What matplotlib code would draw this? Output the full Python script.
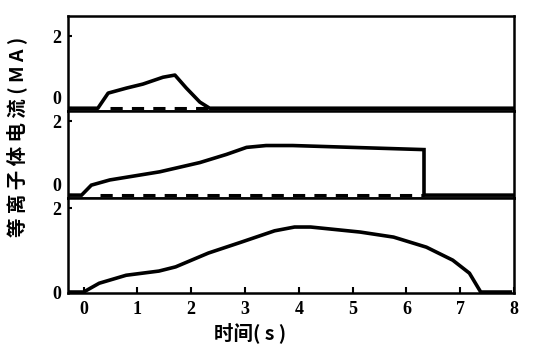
import matplotlib
matplotlib.use("Agg")
import matplotlib.pyplot as plt

plt.rcParams['font.family'] = ['Liberation Serif', 'Noto Sans CJK SC']
plt.rcParams['font.weight'] = 'bold'

# 上图
t1 = [-0.29, 0.26, 0.45, 0.79, 1.09, 1.46, 1.68, 1.89, 2.14, 2.32, 7.93]
i1 = [0.0, 0.0, 0.42, 0.56, 0.67, 0.86, 0.92, 0.56, 0.17, 0.0, 0.0]
d1 = [0.48, 2.38]

# 中图
t2 = [-0.29, -0.04, 0.14, 0.48, 1.40, 2.14, 2.63, 3.00, 3.36, 3.85, 6.27, 6.27, 7.93]
i2 = [0.0, 0.0, 0.27, 0.41, 0.63, 0.88, 1.10, 1.29, 1.34, 1.34, 1.23, 0.0, 0.0]
d2 = [0.3, 6.27]

# 下图
t3 = [-0.29, 0.0, 0.29, 0.79, 1.40, 1.71, 2.32, 2.93, 3.55, 3.92, 4.22, 5.14,
      5.76, 6.37, 6.86, 7.17, 7.38, 7.93]
i3 = [0.0, 0.0, 0.21, 0.40, 0.50, 0.60, 0.93, 1.19, 1.46, 1.55, 1.55, 1.43,
      1.31, 1.07, 0.76, 0.45, 0.0, 0.0]

xticks = [0, 1, 2, 3, 4, 5, 6, 7, 8]

fig = plt.figure(figsize=(5.44, 3.55), dpi=100)
L, W = 0.125, 0.820
ax1 = fig.add_axes([L, 0.687, W, 0.268])
ax2 = fig.add_axes([L, 0.442, W, 0.245])
ax3 = fig.add_axes([L, 0.175, W, 0.267])

lims = [(-0.08, 2.56), (-0.08, 2.27), (-0.02, 2.24)]
for ax, (lo, hi) in zip([ax1, ax2, ax3], lims):
    ax.set_xlim(-0.29, 7.93)
    ax.set_ylim(lo, hi)
    ax.set_yticks([0, 2])
    ax.set_yticklabels(['0', '2'], fontsize=13, fontweight='bold')
    for s in ax.spines.values():
        s.set_linewidth(1.8)
    ax.tick_params(direction='in', length=3, width=1.5, pad=5)

# 0 标签稍微上移
for ax in [ax1, ax2]:
    ax.get_yticklabels()[0].set_verticalalignment('bottom')

ax1.plot(t1, i1, color='black', lw=2.6, solid_joinstyle='round')
ax1.plot(d1, [0, 0], color='black', lw=2.2, linestyle=(0, (4, 3)))
ax2.plot(t2, i2, color='black', lw=2.6, solid_joinstyle='miter')
ax2.plot(d2, [0, 0], color='black', lw=2.2, linestyle=(0, (4, 3)))
ax3.plot(t3, i3, color='black', lw=2.6, solid_joinstyle='round')

ax1.set_xticks([])
ax2.set_xticks([])
ax3.set_xticks(xticks)
ax3.set_xticklabels([str(x) for x in xticks], fontsize=13, fontweight='bold')
ax3.tick_params(axis='x', length=4, pad=6)

fig.text(0.46, 0.062, '时间( s )', ha='center', va='center', fontsize=14, fontweight='bold',
         family=['Noto Sans CJK SC', 'DejaVu Sans'])
fig.text(0.031, 0.614, '等 离 子 体 电 流 ( M A )', ha='center', va='center', rotation=90,
         fontsize=14, fontweight='bold', family=['Noto Sans CJK SC', 'DejaVu Sans'])

fig.savefig('out.png', dpi=100)
